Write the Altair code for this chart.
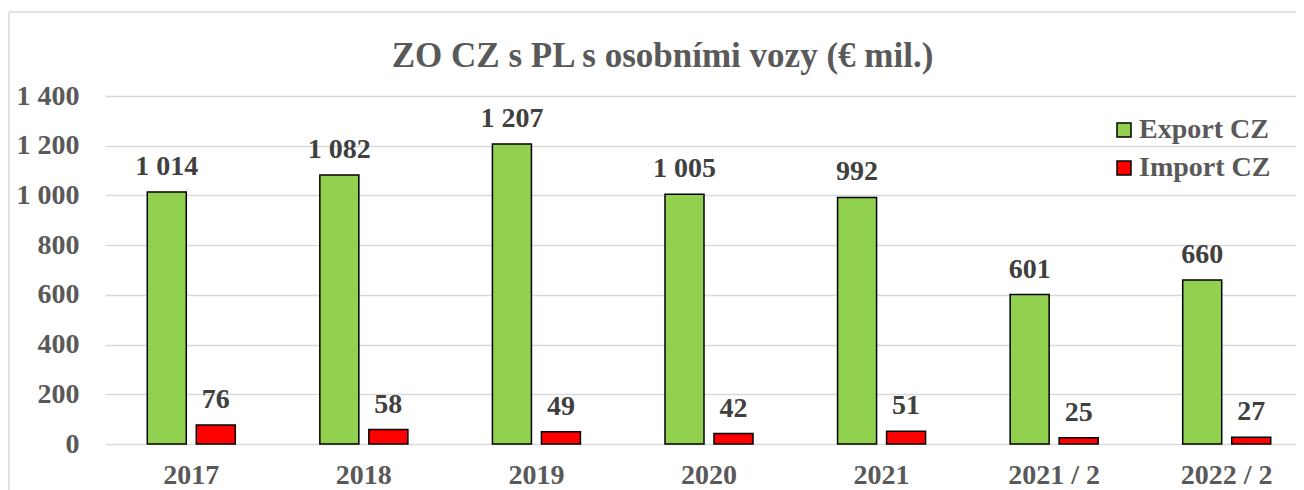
import altair as alt
import pandas as pd

categories = ["2017", "2018", "2019", "2020", "2021", "2021 / 2", "2022 / 2"]
export_cz = [1014, 1082, 1207, 1005, 992, 601, 660]
import_cz = [76, 58, 49, 42, 51, 25, 27]
series = ["Export CZ", "Import CZ"]
colors = ["#92D050", "#FF0000"]
y_ticks = [0, 200, 400, 600, 800, 1000, 1200, 1400]

rows = []
for c, e, i in zip(categories, export_cz, import_cz):
    rows.append({"kat": c, "serie": series[0], "hodnota": e})
    rows.append({"kat": c, "serie": series[1], "hodnota": i})
df = pd.DataFrame(rows)

FONT = "Liberation Serif"
W, H = 1191, 348

x_enc = alt.X(
    "kat:N", sort=categories,
    scale=alt.Scale(range=[0, 1208], paddingInner=0.49, paddingOuter=0.245),
    axis=alt.Axis(title=None, labelAngle=0, ticks=False, tickSize=0, domain=False, grid=False,
                  labelFont=FONT, labelFontSize=28, labelFontWeight="bold",
                  labelColor="#595959", labelPadding=17),
)
xo_enc = alt.XOffset("serie:N", sort=series,
                     scale=alt.Scale(paddingInner=0.204, paddingOuter=0))
y_enc = alt.Y(
    "hodnota:Q", scale=alt.Scale(domain=[0, 1400], nice=False),
    axis=alt.Axis(title=None, values=y_ticks, domain=False, ticks=False, tickSize=0,
                  gridColor="#d9d9d9", gridWidth=1.5,
                  labelExpr="replace(format(datum.value, ',d'), ',', ' ')",
                  labelFont=FONT, labelFontSize=28, labelFontWeight="bold",
                  labelColor="#595959", labelPadding=26, labelBaseline="middle"),
)

base = alt.Chart(df)

bars = base.mark_bar(stroke="black", strokeWidth=1.5).encode(
    x=x_enc, xOffset=xo_enc, y=y_enc,
    color=alt.Color("serie:N", sort=series,
                    scale=alt.Scale(domain=series, range=colors),
                    legend=alt.Legend(orient="none", legendX=1005, legendY=20, title=None,
                                      symbolType="square", symbolSize=196,
                                      symbolStrokeColor="black", symbolStrokeWidth=1.5,
                                      symbolOpacity=1,
                                      labelFont=FONT, labelFontSize=28, labelFontWeight="bold",
                                      labelColor="#595959", rowPadding=10, labelOffset=1)),
)

labels = base.transform_calculate(
    txt="replace(format(datum.hodnota, ',d'), ',', ' ')"
).mark_text(font=FONT, fontSize=28, fontWeight="bold", color="#404040",
            baseline="alphabetic", dy=-17).encode(
    x=x_enc, xOffset=xo_enc, y=y_enc, text="txt:N"
)

dummy = pd.DataFrame({"a": [0]})
border_top = alt.Chart(dummy).mark_rule(color="#d9d9d9", strokeWidth=1.5).encode(
    x=alt.value(-96), x2=alt.value(1200), y=alt.value(-84))
border_left = alt.Chart(dummy).mark_rule(color="#d9d9d9", strokeWidth=1.5).encode(
    x=alt.value(-96), y=alt.value(-84), y2=alt.value(400))

chart = alt.layer(border_top, border_left, bars, labels).properties(
    width=W, height=H,
    autosize="none",
    padding={"left": 97, "top": 88, "right": 0, "bottom": 46},
    title=alt.TitleParams("ZO CZ s PL s osobními vozy (€ mil.)", font=FONT, fontSize=35,
                          fontWeight="bold", color="#595959", anchor="middle",
                          frame="group", offset=-91, dx=-38, baseline="alphabetic"),
).configure_view(stroke=None)

chart.save("out.html", embed_options={"renderer": "svg", "actions": False})
